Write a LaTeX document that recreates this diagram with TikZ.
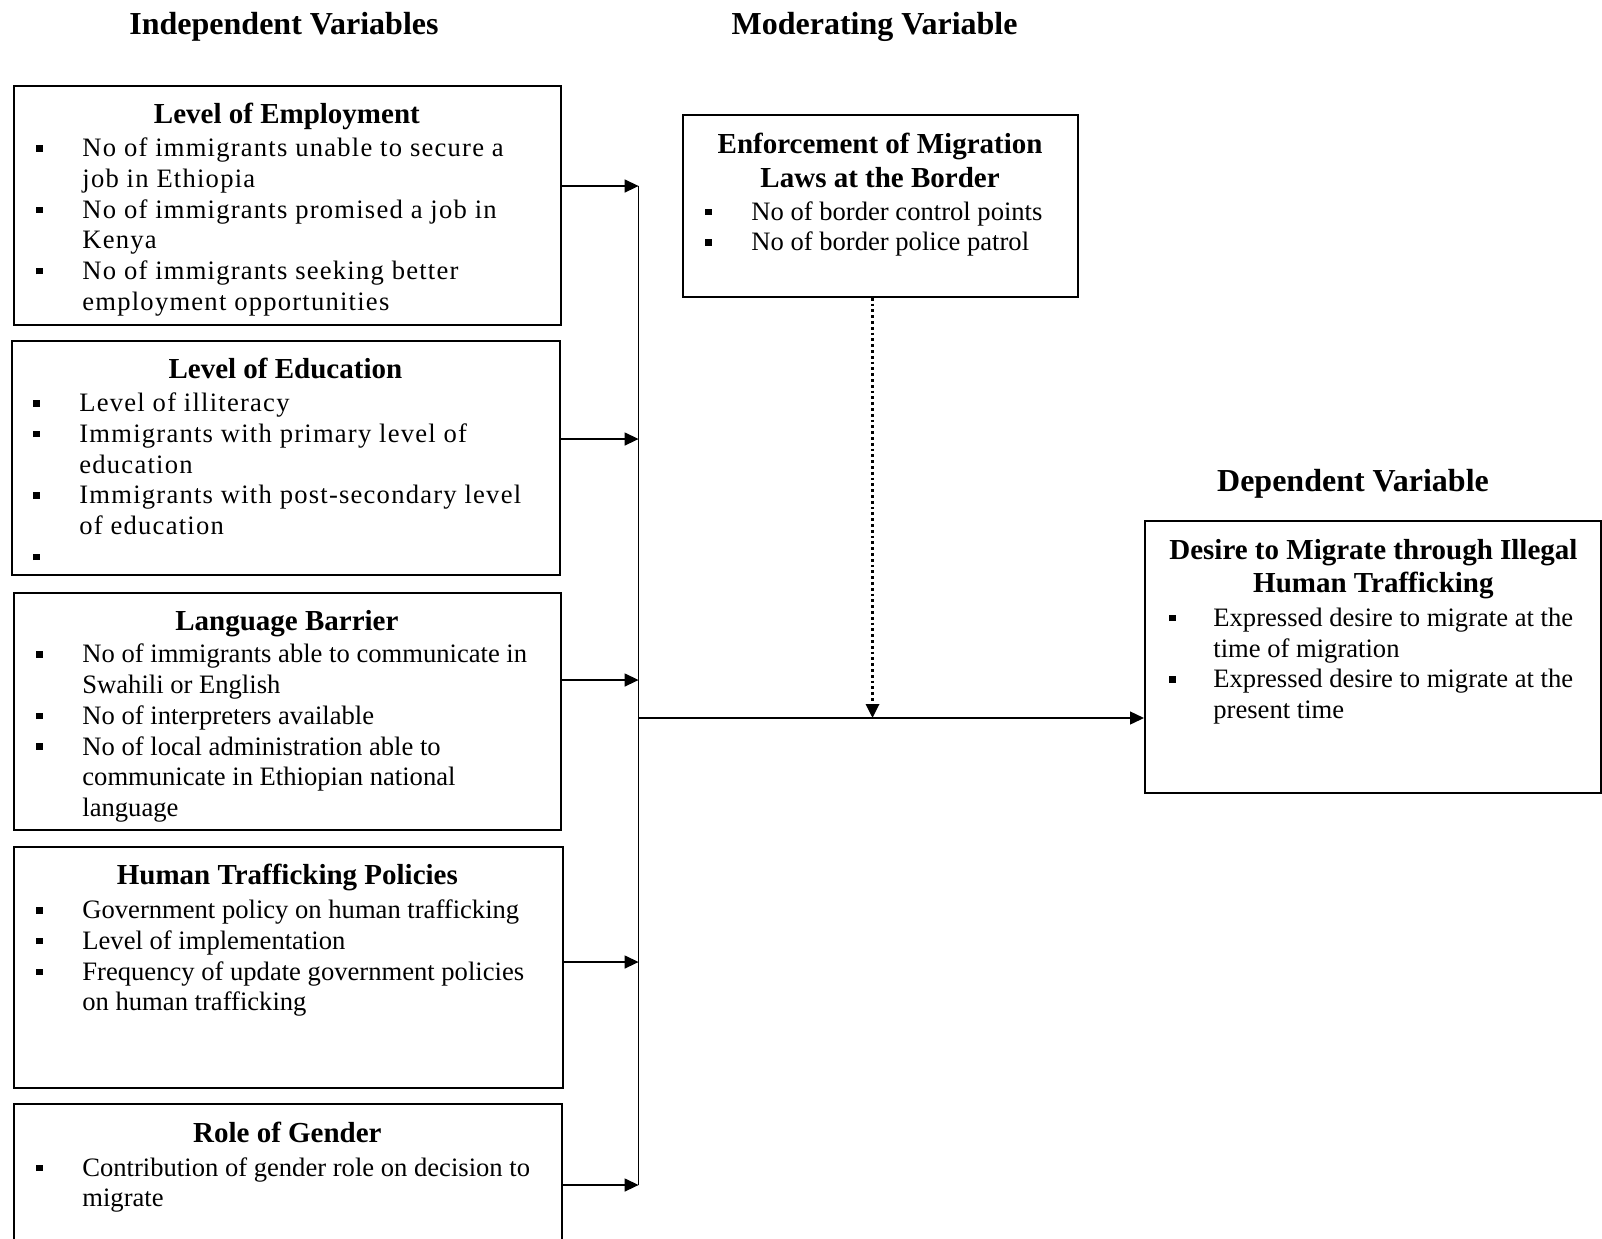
\documentclass[tikz,border=0pt]{standalone}
\usepackage{fontspec}
\setmainfont{Liberation Serif}
\newfontfamily\widefont[LetterSpace=4.6]{Liberation Serif}
\usetikzlibrary{arrows.meta}

\newcommand{\bul}{\makebox[23pt][l]{\rule[2.6pt]{3.2pt}{3.2pt}}}
\newcommand{\ind}{\hspace*{23pt}}
\newcommand{\hd}[2]{\makebox[#1][c]{\normalfont\bfseries\fontsize{14.5}{16}\selectfont #2}}

\begin{document}
\begin{tikzpicture}[x=0.5pt, y=-0.5pt,
  box/.style={draw, line width=0.9pt, inner sep=0, anchor=north west},
  txt/.style={anchor=north west, align=left, inner sep=0, font=\fontsize{13.3}{15.35}\selectfont},
  wtxt/.style={txt, font=\widefont\fontsize{13.3}{15.35}\selectfont},
  titel/.style={anchor=base, font=\bfseries\fontsize{16}{18}\selectfont},
  pfeil/.style={-{Triangle[length=7pt,width=6.5pt]}, line width=0.7pt},
  punkte/.style={line width=1.6pt, dash pattern=on 1.4pt off 1.5pt}]
\useasboundingbox (0,0) rectangle (1602,1238);
\clip (0,0) rectangle (1602,1238);

% Ueberschriften
\node[titel] (tind) at (284,34.5) {Independent Variables};
\node[titel] (tmod) at (874.6,34.5) {Moderating Variable};
\node[titel] (tdep) at (1353,491) {Dependent Variable};

% Kaesten links
\node[box, minimum width=273.5pt, minimum height=119.5pt] (emp) at (13,85) {};
\node[wtxt] (empT) at (36,103) {\hd{250.5pt}{Level of Employment}\\[1.1pt]
  \bul No of immigrants unable to secure a\\ \ind job in Ethiopia\\
  \bul No of immigrants promised a job in\\ \ind Kenya\\
  \bul No of immigrants seeking better\\ \ind employment opportunities};

\node[box, minimum width=274pt, minimum height=117pt] (edu) at (11,340) {};
\node[wtxt] (eduT) at (33,358) {\hd{252pt}{Level of Education}\\[1.1pt]
  \bul Level of illiteracy\\
  \bul Immigrants with primary level of\\ \ind education\\
  \bul Immigrants with post-secondary level\\ \ind of education\\
  \bul};

\node[box, minimum width=273.5pt, minimum height=118.5pt] (lang) at (13,592) {};
\node[txt] (langT) at (36,609.5) {\hd{250.5pt}{Language Barrier}\\[1.1pt]
  \bul No of immigrants able to communicate in\\ \ind Swahili or English\\
  \bul No of interpreters available\\
  \bul No of local administration able to\\ \ind communicate in Ethiopian national\\ \ind language};

\node[box, minimum width=274.5pt, minimum height=120.5pt] (pol) at (13,846) {};
\node[txt] (polT) at (36,864) {\hd{251pt}{Human Trafficking Policies}\\[1.6pt]
  \bul Government policy on human trafficking\\
  \bul Level of implementation\\
  \bul Frequency of update government policies\\ \ind on human trafficking};

\node[box, minimum width=274pt, minimum height=80pt] (gen) at (13,1103) {};
\node[txt] (genT) at (36,1121.5) {\hd{251pt}{Role of Gender}\\[1.6pt]
  \bul Contribution of gender role on decision to\\ \ind migrate};

% Moderator und abhaengige Variable
\node[box, minimum width=197.5pt, minimum height=91pt] (mod) at (682,114) {};
\node[txt] (modT) at (705,132.5) {\hd{174.7pt}{Enforcement of Migration}\\[1.6pt]
  \hd{174.7pt}{Laws at the Border}\\[1.1pt]
  \bul No of border control points\\
  \bul No of border police patrol};

\node[box, minimum width=228pt, minimum height=136pt] (dep) at (1144,520) {};
\node[txt] (depT) at (1169,539) {\hd{204pt}{Desire to Migrate through Illegal}\\[1.1pt]
  \hd{204pt}{Human Trafficking}\\[1.6pt]
  \makebox[22pt][l]{\rule[2.6pt]{3.2pt}{3.2pt}}Expressed desire to migrate at the\\ \hspace*{22pt}time of migration\\
  \makebox[22pt][l]{\rule[2.6pt]{3.2pt}{3.2pt}}Expressed desire to migrate at the\\ \hspace*{22pt}present time};

% Sammelschiene
\coordinate (b1) at (638.6,186);
\coordinate (b2) at (638.6,439);
\coordinate (b3) at (638.6,680);
\coordinate (b4) at (638.6,962);
\coordinate (b5) at (638.6,1185);
\coordinate (j) at (638.6,718);
\coordinate (k) at (872.5,718);

\draw[line width=0.7pt] (b1) -- (b5);
\draw[pfeil] (emp.east |- b1) -- (b1);
\draw[pfeil] (edu.east |- b2) -- (b2);
\draw[pfeil] (lang.east |- b3) -- (b3);
\draw[pfeil] (pol.east |- b4) -- (b4);
\draw[pfeil] (gen.east |- b5) -- (b5);
\draw[pfeil] (j) -- (dep.west |- j);
\draw[pfeil, punkte] (mod.south -| k) -- (k);
\end{tikzpicture}
\end{document}
